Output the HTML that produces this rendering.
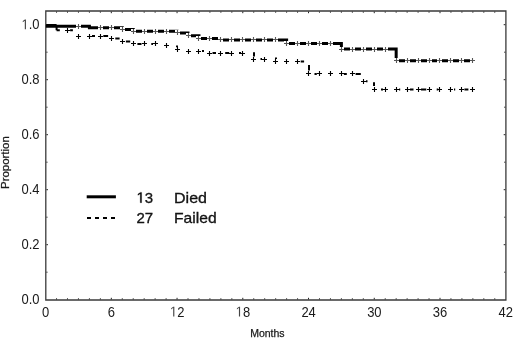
<!DOCTYPE html>
<html><head><meta charset="utf-8"><style>
html,body{margin:0;padding:0;background:#fff;width:520px;height:340px;overflow:hidden}
svg{display:block;will-change:transform}
text{font-family:"Liberation Sans",sans-serif;fill:#1a1a1a}
</style></head><body>
<svg width="520" height="340" viewBox="0 0 520 340">
<rect width="520" height="340" fill="#fff"/>
<path d="M45.8,11H505.9V300H45.8Z" fill="none" stroke="#3a3a3a" stroke-width="1.3"/>
<path d="M56.54,299.4v-1.1M56.54,11.6v1.1M67.49,299.4v-1.1M67.49,11.6v1.1M78.45,299.4v-1.1M78.45,11.6v1.1M89.40,299.4v-1.1M89.40,11.6v1.1M100.36,299.4v-1.1M100.36,11.6v1.1M111.32,299.4v-1.6M111.32,11.6v1.6M122.27,299.4v-1.1M122.27,11.6v1.1M133.23,299.4v-1.1M133.23,11.6v1.1M144.18,299.4v-1.1M144.18,11.6v1.1M155.14,299.4v-1.1M155.14,11.6v1.1M166.10,299.4v-1.1M166.10,11.6v1.1M177.05,299.4v-1.6M177.05,11.6v1.6M188.01,299.4v-1.1M188.01,11.6v1.1M198.96,299.4v-1.1M198.96,11.6v1.1M209.92,299.4v-1.1M209.92,11.6v1.1M220.88,299.4v-1.1M220.88,11.6v1.1M231.83,299.4v-1.1M231.83,11.6v1.1M242.79,299.4v-1.6M242.79,11.6v1.6M253.74,299.4v-1.1M253.74,11.6v1.1M264.70,299.4v-1.1M264.70,11.6v1.1M275.66,299.4v-1.1M275.66,11.6v1.1M286.61,299.4v-1.1M286.61,11.6v1.1M297.57,299.4v-1.1M297.57,11.6v1.1M308.52,299.4v-1.6M308.52,11.6v1.6M319.48,299.4v-1.1M319.48,11.6v1.1M330.44,299.4v-1.1M330.44,11.6v1.1M341.39,299.4v-1.1M341.39,11.6v1.1M352.35,299.4v-1.1M352.35,11.6v1.1M363.30,299.4v-1.1M363.30,11.6v1.1M374.26,299.4v-1.6M374.26,11.6v1.6M385.22,299.4v-1.1M385.22,11.6v1.1M396.17,299.4v-1.1M396.17,11.6v1.1M407.13,299.4v-1.1M407.13,11.6v1.1M418.08,299.4v-1.1M418.08,11.6v1.1M429.04,299.4v-1.1M429.04,11.6v1.1M440.00,299.4v-1.6M440.00,11.6v1.6M450.95,299.4v-1.1M450.95,11.6v1.1M461.91,299.4v-1.1M461.91,11.6v1.1M472.86,299.4v-1.1M472.86,11.6v1.1M483.82,299.4v-1.1M483.82,11.6v1.1M494.78,299.4v-1.1M494.78,11.6v1.1M46.4,272.20h1.1M505.3,272.20h-1.1M46.4,244.70h1.6M505.3,244.70h-1.6M46.4,217.20h1.1M505.3,217.20h-1.1M46.4,189.70h1.6M505.3,189.70h-1.6M46.4,162.20h1.1M505.3,162.20h-1.1M46.4,134.70h1.6M505.3,134.70h-1.6M46.4,107.20h1.1M505.3,107.20h-1.1M46.4,79.70h1.6M505.3,79.70h-1.6M46.4,52.20h1.1M505.3,52.20h-1.1M46.4,24.70h1.6M505.3,24.70h-1.6" fill="none" stroke="#222" stroke-width="1"/>
<g font-size="13" fill="#444"><g transform="translate(0,304.300) scale(1,1.1)"><text x="21.528" y="0">0.0</text></g><g transform="translate(0,249.300) scale(1,1.1)"><text x="21.528" y="0">0.2</text></g><g transform="translate(0,194.300) scale(1,1.1)"><text x="21.528" y="0">0.4</text></g><g transform="translate(0,139.300) scale(1,1.1)"><text x="21.528" y="0">0.6</text></g><g transform="translate(0,84.300) scale(1,1.1)"><text x="21.528" y="0">0.8</text></g><g transform="translate(0,29.300) scale(1,1.1)"><text x="21.528" y="0"> .0</text><path transform="translate(21.528,0) scale(0.006348,-0.006348)" d="M515,0L515,1237L197,1010L197,1180L530,1409L696,1409L696,0Z" vector-effect="non-scaling-stroke"/></g><g transform="translate(0,316.500) scale(1,1.1)"><text x="42.065" y="0">0</text></g><g transform="translate(0,316.500) scale(1,1.1)"><text x="107.801" y="0">6</text></g><g transform="translate(0,316.500) scale(1,1.1)"><text x="169.922" y="0"> 2</text><path transform="translate(169.922,0) scale(0.006348,-0.006348)" d="M515,0L515,1237L197,1010L197,1180L530,1409L696,1409L696,0Z" vector-effect="non-scaling-stroke"/></g><g transform="translate(0,316.500) scale(1,1.1)"><text x="235.658" y="0"> 8</text><path transform="translate(235.658,0) scale(0.006348,-0.006348)" d="M515,0L515,1237L197,1010L197,1180L530,1409L696,1409L696,0Z" vector-effect="non-scaling-stroke"/></g><g transform="translate(0,316.500) scale(1,1.1)"><text x="301.394" y="0">24</text></g><g transform="translate(0,316.500) scale(1,1.1)"><text x="367.130" y="0">30</text></g><g transform="translate(0,316.500) scale(1,1.1)"><text x="432.866" y="0">36</text></g><g transform="translate(0,316.500) scale(1,1.1)"><text x="498.602" y="0">42</text></g></g>
<text font-size="10.5" x="267.4" y="336.9" text-anchor="middle" stroke="#1a1a1a" stroke-width="0.25">Months</text>
<text font-size="11" transform="translate(9.2,162.6) rotate(-90)" text-anchor="middle" stroke="#1a1a1a" stroke-width="0.25" textLength="52.8" lengthAdjust="spacingAndGlyphs">Proportion</text>
<path d="M45.88,26.20H89.40V27.80H122.27V29.50H133.23V31.30H177.05V32.90H188.01V35.80H198.96V38.40H220.88V39.90H286.61V43.45H341.39V49.10H396.17V60.65H472.86" fill="none" stroke="#000" stroke-width="3"/>
<g fill="#fff"><rect x="76.00" y="24.00" width="5.0" height="5.0"/><rect x="98.00" y="25.00" width="5.0" height="5.0"/><rect x="109.00" y="25.00" width="5.0" height="5.0"/><rect x="120.00" y="27.00" width="5.0" height="5.0"/><rect x="131.00" y="29.00" width="5.0" height="5.0"/><rect x="142.00" y="29.00" width="5.0" height="5.0"/><rect x="153.00" y="29.00" width="5.0" height="5.0"/><rect x="164.00" y="29.00" width="5.0" height="5.0"/><rect x="175.00" y="30.00" width="5.0" height="5.0"/><rect x="186.00" y="33.00" width="5.0" height="5.0"/><rect x="196.00" y="36.00" width="5.0" height="5.0"/><rect x="207.00" y="36.00" width="5.0" height="5.0"/><rect x="218.00" y="37.00" width="5.0" height="5.0"/><rect x="229.00" y="37.00" width="5.0" height="5.0"/><rect x="240.00" y="37.00" width="5.0" height="5.0"/><rect x="251.00" y="37.00" width="5.0" height="5.0"/><rect x="262.00" y="37.00" width="5.0" height="5.0"/><rect x="273.00" y="37.00" width="5.0" height="5.0"/><rect x="284.00" y="41.00" width="5.0" height="5.0"/><rect x="295.00" y="41.00" width="5.0" height="5.0"/><rect x="306.00" y="41.00" width="5.0" height="5.0"/><rect x="317.00" y="41.00" width="5.0" height="5.0"/><rect x="328.00" y="41.00" width="5.0" height="5.0"/><rect x="339.00" y="47.00" width="5.0" height="5.0"/><rect x="350.00" y="47.00" width="5.0" height="5.0"/><rect x="361.00" y="47.00" width="5.0" height="5.0"/><rect x="372.00" y="47.00" width="5.0" height="5.0"/><rect x="383.00" y="47.00" width="5.0" height="5.0"/><rect x="394.00" y="58.00" width="5.0" height="5.0"/><rect x="405.00" y="58.00" width="5.0" height="5.0"/><rect x="416.00" y="58.00" width="5.0" height="5.0"/><rect x="427.00" y="58.00" width="5.0" height="5.0"/><rect x="437.00" y="58.00" width="5.0" height="5.0"/><rect x="448.00" y="58.00" width="5.0" height="5.0"/><rect x="459.00" y="58.00" width="5.0" height="5.0"/><rect x="470.00" y="58.00" width="5.0" height="5.0"/><rect x="65.00" y="28.00" width="5.0" height="5.0"/><rect x="76.00" y="34.00" width="5.0" height="5.0"/><rect x="87.00" y="34.00" width="5.0" height="5.0"/><rect x="98.00" y="34.00" width="5.0" height="5.0"/><rect x="109.00" y="36.00" width="5.0" height="5.0"/><rect x="120.00" y="39.00" width="5.0" height="5.0"/><rect x="131.00" y="41.00" width="5.0" height="5.0"/><rect x="142.00" y="41.00" width="5.0" height="5.0"/><rect x="153.00" y="41.00" width="5.0" height="5.0"/><rect x="164.00" y="43.00" width="5.0" height="5.0"/><rect x="175.00" y="47.00" width="5.0" height="5.0"/><rect x="186.00" y="49.00" width="5.0" height="5.0"/><rect x="196.00" y="49.00" width="5.0" height="5.0"/><rect x="207.00" y="51.00" width="5.0" height="5.0"/><rect x="218.00" y="51.00" width="5.0" height="5.0"/><rect x="229.00" y="51.00" width="5.0" height="5.0"/><rect x="240.00" y="51.00" width="5.0" height="5.0"/><rect x="251.00" y="57.00" width="5.0" height="5.0"/><rect x="262.00" y="57.00" width="5.0" height="5.0"/><rect x="273.00" y="59.00" width="5.0" height="5.0"/><rect x="284.00" y="59.00" width="5.0" height="5.0"/><rect x="295.00" y="59.00" width="5.0" height="5.0"/><rect x="306.00" y="71.00" width="5.0" height="5.0"/><rect x="317.00" y="71.00" width="5.0" height="5.0"/><rect x="328.00" y="71.00" width="5.0" height="5.0"/><rect x="339.00" y="71.00" width="5.0" height="5.0"/><rect x="350.00" y="71.00" width="5.0" height="5.0"/><rect x="361.00" y="79.00" width="5.0" height="5.0"/><rect x="372.00" y="87.00" width="5.0" height="5.0"/><rect x="383.00" y="87.00" width="5.0" height="5.0"/><rect x="394.00" y="87.00" width="5.0" height="5.0"/><rect x="405.00" y="87.00" width="5.0" height="5.0"/><rect x="416.00" y="87.00" width="5.0" height="5.0"/><rect x="427.00" y="87.00" width="5.0" height="5.0"/><rect x="437.00" y="87.00" width="5.0" height="5.0"/><rect x="448.00" y="87.00" width="5.0" height="5.0"/><rect x="459.00" y="87.00" width="5.0" height="5.0"/><rect x="470.00" y="87.00" width="5.0" height="5.0"/></g>
<path d="M46.20,25.00H56.60M70.10,30.30H72.90M92.00,36.10H95.00M103.30,36.10H108.10M115.30,38.40H119.60M125.90,41.40H130.20M137.40,43.90H141.50M151.30,43.90H153.00M202.00,51.00H204.00M212.50,53.00H216.00M225.20,53.00H229.20M239.00,53.00H241.00M260.50,59.00H262.00M300.70,61.60H304.10M314.50,73.90H316.80M343.90,73.90H346.80M355.60,73.90H360.80M366.00,81.30H367.50M381.00,89.40H383.00M399.00,89.40H400.20M410.00,89.40H413.50M421.00,89.40H426.30M436.70,89.40H438.20M454.00,89.40H455.20M464.40,89.40H468.40M56.6,30.3H59.8M56.60,25.00V30.30M177.00,45.50V47.30M254.00,52.20V56.60M276.00,57.40V59.00M309.00,65.00V70.60M374.00,82.30V86.00" fill="none" stroke="#000" stroke-width="2"/>
<path d="M76.00,26.50H81.00M78.50,24.00V29.00M98.00,27.50H103.00M100.50,25.00V30.00M109.00,27.50H114.00M111.50,25.00V30.00M120.00,29.50H125.00M122.50,27.00V32.00M131.00,31.50H136.00M133.50,29.00V34.00M142.00,31.50H147.00M144.50,29.00V34.00M153.00,31.50H158.00M155.50,29.00V34.00M164.00,31.50H169.00M166.50,29.00V34.00M175.00,32.50H180.00M177.50,30.00V35.00M186.00,35.50H191.00M188.50,33.00V38.00M196.00,38.50H201.00M198.50,36.00V41.00M207.00,38.50H212.00M209.50,36.00V41.00M218.00,39.50H223.00M220.50,37.00V42.00M229.00,39.50H234.00M231.50,37.00V42.00M240.00,39.50H245.00M242.50,37.00V42.00M251.00,39.50H256.00M253.50,37.00V42.00M262.00,39.50H267.00M264.50,37.00V42.00M273.00,39.50H278.00M275.50,37.00V42.00M284.00,43.50H289.00M286.50,41.00V46.00M295.00,43.50H300.00M297.50,41.00V46.00M306.00,43.50H311.00M308.50,41.00V46.00M317.00,43.50H322.00M319.50,41.00V46.00M328.00,43.50H333.00M330.50,41.00V46.00M339.00,49.50H344.00M341.50,47.00V52.00M350.00,49.50H355.00M352.50,47.00V52.00M361.00,49.50H366.00M363.50,47.00V52.00M372.00,49.50H377.00M374.50,47.00V52.00M383.00,49.50H388.00M385.50,47.00V52.00M394.00,60.50H399.00M396.50,58.00V63.00M405.00,60.50H410.00M407.50,58.00V63.00M416.00,60.50H421.00M418.50,58.00V63.00M427.00,60.50H432.00M429.50,58.00V63.00M437.00,60.50H442.00M439.50,58.00V63.00M448.00,60.50H453.00M450.50,58.00V63.00M459.00,60.50H464.00M461.50,58.00V63.00M470.00,60.50H475.00M472.50,58.00V63.00" fill="none" stroke="#555" stroke-width="1.1"/>
<path d="M65.00,30.50H70.00M67.50,28.00V33.00M76.00,36.50H81.00M78.50,34.00V39.00M87.00,36.50H92.00M89.50,34.00V39.00M98.00,36.50H103.00M100.50,34.00V39.00M109.00,38.50H114.00M111.50,36.00V41.00M120.00,41.50H125.00M122.50,39.00V44.00M131.00,43.50H136.00M133.50,41.00V46.00M142.00,43.50H147.00M144.50,41.00V46.00M153.00,43.50H158.00M155.50,41.00V46.00M164.00,45.50H169.00M166.50,43.00V48.00M175.00,49.50H180.00M177.50,47.00V52.00M186.00,51.50H191.00M188.50,49.00V54.00M196.00,51.50H201.00M198.50,49.00V54.00M207.00,53.50H212.00M209.50,51.00V56.00M218.00,53.50H223.00M220.50,51.00V56.00M229.00,53.50H234.00M231.50,51.00V56.00M240.00,53.50H245.00M242.50,51.00V56.00M251.00,59.50H256.00M253.50,57.00V62.00M262.00,59.50H267.00M264.50,57.00V62.00M273.00,61.50H278.00M275.50,59.00V64.00M284.00,61.50H289.00M286.50,59.00V64.00M295.00,61.50H300.00M297.50,59.00V64.00M306.00,73.50H311.00M308.50,71.00V76.00M317.00,73.50H322.00M319.50,71.00V76.00M328.00,73.50H333.00M330.50,71.00V76.00M339.00,73.50H344.00M341.50,71.00V76.00M350.00,73.50H355.00M352.50,71.00V76.00M361.00,81.50H366.00M363.50,79.00V84.00M372.00,89.50H377.00M374.50,87.00V92.00M383.00,89.50H388.00M385.50,87.00V92.00M394.00,89.50H399.00M396.50,87.00V92.00M405.00,89.50H410.00M407.50,87.00V92.00M416.00,89.50H421.00M418.50,87.00V92.00M427.00,89.50H432.00M429.50,87.00V92.00M437.00,89.50H442.00M439.50,87.00V92.00M448.00,89.50H453.00M450.50,87.00V92.00M459.00,89.50H464.00M461.50,87.00V92.00M470.00,89.50H475.00M472.50,87.00V92.00" fill="none" stroke="#000" stroke-width="1.1"/>
<path d="M86.7,196.8H115.9" stroke="#000" stroke-width="3"/>
<path d="M87,218H115" stroke="#000" stroke-width="2" stroke-dasharray="4 4"/>
<g font-size="15" fill="#000" stroke="#000" stroke-width="0.3">
<g transform="translate(0,202.700)"><text x="136.500" y="0"> 3</text><path transform="translate(136.500,0) scale(0.007324,-0.007324)" d="M515,0L515,1237L197,1010L197,1180L530,1409L696,1409L696,0Z" vector-effect="non-scaling-stroke"/></g><text x="174" y="202.7" textLength="33" lengthAdjust="spacingAndGlyphs">Died</text>
<text x="136.5" y="223.4">27</text><text x="174" y="223.4" textLength="42.6" lengthAdjust="spacingAndGlyphs">Failed</text>
</g>
</svg>
</body></html>
